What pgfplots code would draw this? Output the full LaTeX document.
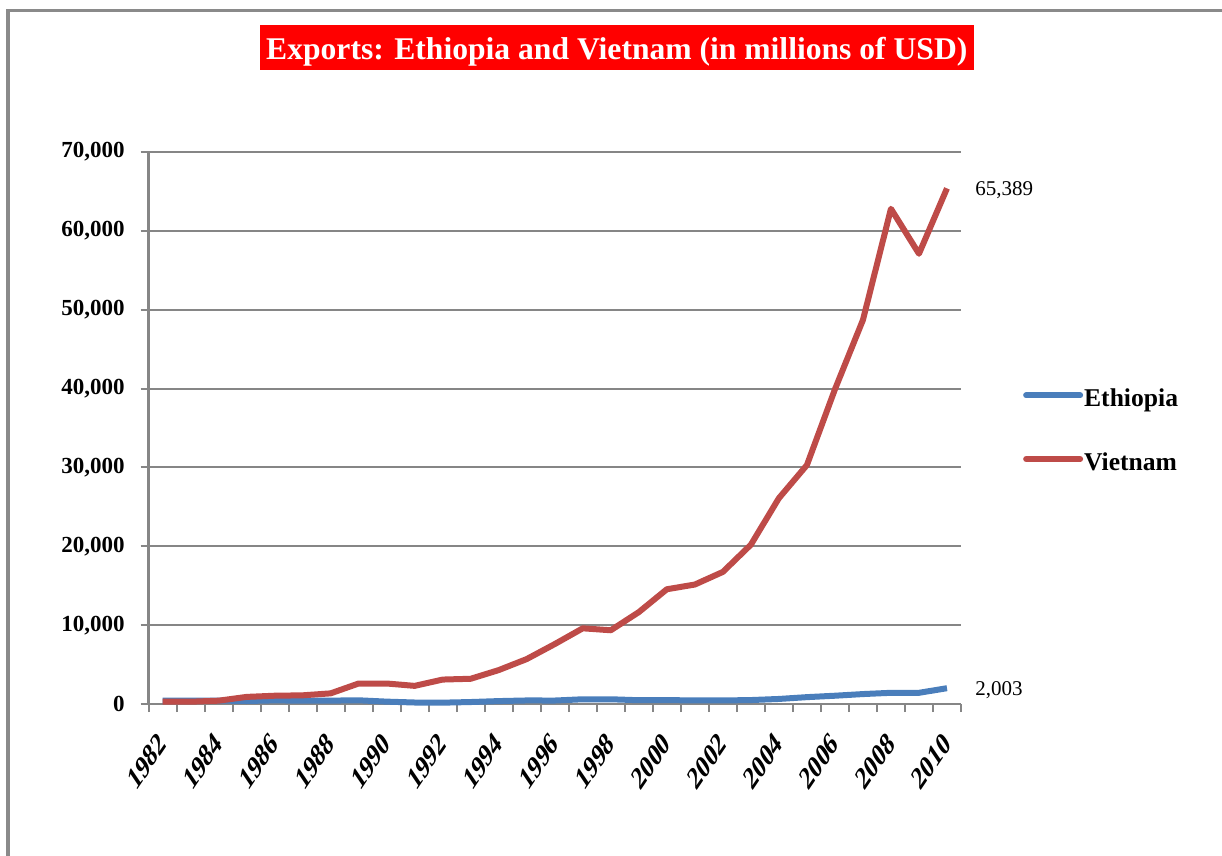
\documentclass[border=0pt]{standalone}
\usepackage{fontspec}
\setmainfont{Liberation Serif}
\usepackage{pgfplots}
\pgfplotsset{compat=1.18}
\definecolor{ethblue}{HTML}{4A7EBB}
\definecolor{vnred}{HTML}{BE4B48}
\definecolor{gridgray}{HTML}{868686}
\definecolor{framegray}{HTML}{8A8A8A}
\begin{document}
\begin{tikzpicture}
\useasboundingbox (0pt,0pt) rectangle (611pt,-428pt);
% frame
\draw[framegray, line width=2pt] (4pt,-428pt) -- (4pt,-5.15pt);
\draw[framegray, line width=1.25pt] (3pt,-5.15pt) -- (611pt,-5.15pt);
% title
\fill[red] (130pt,-12.5pt) rectangle (487pt,-35pt);
\node[anchor=base, inner sep=0pt, text=white, font=\fontsize{15.8}{18}\selectfont\bfseries] at (308.4pt,-29.65pt) {Exports: Ethiopia and Vietnam (in millions of USD)};
\begin{axis}[
  at={(74.25pt,-352pt)}, anchor=south west,
  scale only axis, width=406.25pt, height=276pt,
  xmin=1981.5, xmax=2010.5, ymin=0, ymax=70000,
  axis lines*=left,
  axis line style={gridgray, line width=1.25pt},
  ymajorgrids, grid style={gridgray, line width=1pt},
  ytick={0,10000,20000,30000,40000,50000,60000,70000},
  scaled y ticks=false,
  xtick={1982,1984,1986,1988,1990,1992,1994,1996,1998,2000,2002,2004,2006,2008,2010},
  xticklabels={1982,1984,1986,1988,1990,1992,1994,1996,1998,2000,2002,2004,2006,2008,2010},
  minor xtick={1981.5,1982.5,...,2010.5},
  tick align=outside, major tick length=4pt, minor tick length=4pt,
  major x tick style={draw=none},
  tick style={gridgray, line width=1pt},
  /pgf/number format/assume math mode=true,
  yticklabel style={font=\fontsize{11.5}{13}\selectfont\bfseries, inner sep=0pt, anchor=east,
    /pgf/number format/fixed, /pgf/number format/1000 sep={,}},
  yticklabel shift=7.75pt,
  xticklabel style={font=\fontsize{12.5}{14}\selectfont\bfseries, inner sep=0pt, xscale=0.88, yscale=1.3, rotate=45, anchor=east},
  xticklabel shift=13pt,
  legend style={draw=none, fill=none, at={(1.076,0.495)}, anchor=west, inner sep=0pt,
    font=\fontsize{12.8}{14}\selectfont\bfseries, row sep=21.5pt,
    nodes={inner sep=0pt}},
  legend cell align=left,
  legend image code/.code={\draw[#1, line cap=round] (0pt,1.8pt) -- (27pt,1.8pt);},
  clip=false,
]
\addplot[ethblue, line width=3pt, line join=round] coordinates {
(1982,420) (1983,430) (1984,440) (1985,380) (1986,460) (1987,420) (1988,430) (1989,470)
(1990,300) (1991,190) (1992,170) (1993,250) (1994,370) (1995,450) (1996,440) (1997,600)
(1998,600) (1999,480) (2000,490) (2001,460) (2002,450) (2003,500) (2004,640) (2005,870)
(2006,1050) (2007,1260) (2008,1420) (2009,1420) (2010,2003)};
\addlegendentry{\hspace{0.5pt}Ethiopia}
\addplot[vnred, line width=3pt, line join=round] coordinates {
(1982,290) (1983,290) (1984,420) (1985,900) (1986,1050) (1987,1100) (1988,1350) (1989,2600)
(1990,2600) (1991,2300) (1992,3100) (1993,3200) (1994,4300) (1995,5700) (1996,7600) (1997,9600)
(1998,9350) (1999,11650) (2000,14550) (2001,15150) (2002,16750) (2003,20200) (2004,26100) (2005,30300)
(2006,39900) (2007,48700) (2008,62800) (2009,57100) (2010,65389)};
\addlegendentry{\hspace{0.5pt}Vietnam}
\node[anchor=base west, inner sep=0pt, xshift=14pt, yshift=-3.55pt, font=\fontsize{10.5}{12}\selectfont] at (axis cs:2010,65389) {65,389};
\node[anchor=base west, inner sep=0pt, xshift=14pt, yshift=-3.55pt, font=\fontsize{10.5}{12}\selectfont] at (axis cs:2010,2003) {2,003};
\end{axis}
\end{tikzpicture}
\end{document}
